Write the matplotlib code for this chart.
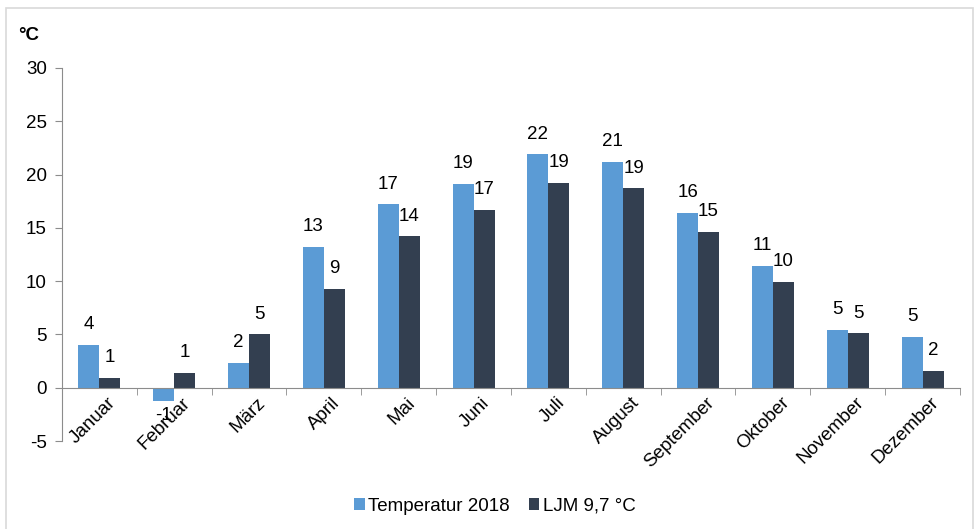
import numpy as np
import matplotlib.pyplot as plt
from matplotlib.patches import Rectangle

plt.rcParams['font.family'] = ['Liberation Sans', 'DejaVu Sans']
plt.rcParams['axes.unicode_minus'] = False

months = ['Januar', 'Februar', 'März', 'April', 'Mai', 'Juni', 'Juli',
          'August', 'September', 'Oktober', 'November', 'Dezember']
temp_2018 = [4.0, -1.2, 2.3, 13.2, 17.2, 19.1, 21.9, 21.2, 16.4, 11.4, 5.4, 4.8]
ljm = [0.9, 1.4, 5.0, 9.3, 14.2, 16.7, 19.2, 18.7, 14.6, 9.9, 5.1, 1.6]

c_temp = '#5B9BD5'
c_ljm = '#333F50'
axis_gray = '#8C8C8C'
fs = 13.5

fig = plt.figure(figsize=(9.79, 5.29), dpi=100)
fig.patches.append(Rectangle((6 / 979, -0.01), 967 / 979, 1 - 8 / 529 + 0.01,
                             transform=fig.transFigure, fill=False,
                             edgecolor='#D9D9D9', linewidth=1.2))
ax = fig.add_axes([62 / 979, 1 - 441 / 529, (960 - 62) / 979, (441 - 68) / 529])

x = np.arange(len(months))
w = 0.28
ax.bar(x - w / 2, temp_2018, w, color=c_temp, label='Temperatur 2018')
ax.bar(x + w / 2, ljm, w, color=c_ljm, label='LJM 9,7 °C')

for xi, v in zip(x, temp_2018):
    if v >= 0:
        ax.text(xi - w / 2, v + 1.1, '%d' % round(v), ha='center', va='bottom', fontsize=fs)
    else:
        ax.text(xi - w / 2, v - 0.6, '%d' % round(v), ha='center', va='top', fontsize=fs)
for xi, v in zip(x, ljm):
    ax.text(xi + w / 2, v + 1.1, '%d' % round(v), ha='center', va='bottom', fontsize=fs)

ax.set_xlim(-0.5, len(months) - 0.5)
ax.set_ylim(-5, 30)
ax.set_yticks(np.arange(-5, 31, 5))
ax.tick_params(axis='y', labelsize=fs, color=axis_gray, length=5, pad=6)

ax.spines['top'].set_visible(False)
ax.spines['right'].set_visible(False)
ax.spines['left'].set_color(axis_gray)
ax.spines['bottom'].set_color(axis_gray)
ax.spines['bottom'].set_position(('data', 0))

ax.set_xticks(x)
ax.set_xticklabels([])
ax.tick_params(axis='x', which='major', length=0)
ax.set_xticks(np.arange(-0.5, len(months), 1), minor=True)
ax.tick_params(axis='x', which='minor', length=5, color=axis_gray, direction='out')

for xi, m in zip(x, months):
    ax.text(xi + 0.1, -0.6, m, rotation=45, ha='right', va='top',
            rotation_mode='anchor', fontsize=fs)

fig.text(18 / 979, 1 - 35 / 529, '°C', fontsize=fs, fontweight='bold', va='center')

ax.legend(loc='center', bbox_to_anchor=(0.482, -0.175), ncol=2, frameon=False,
          fontsize=fs, handlelength=0.55, handleheight=0.55, handletextpad=0.2,
          columnspacing=1.0, borderpad=0)

fig.savefig('out.png', dpi=100)
